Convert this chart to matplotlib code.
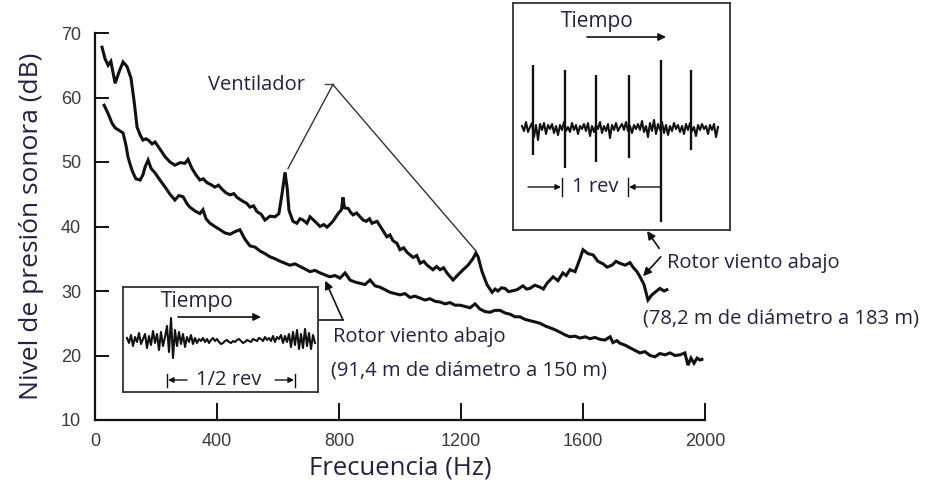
"""
    Espectro de ruido de dos aerogeneradores de rotor viento abajo,
    con dos recuadros de la señal en el tiempo.
"""

import numpy as np
import matplotlib.pyplot as plt

# Datos.
# Rotor viento abajo, 78,2 m de diámetro a 183 m (curva superior).
f_upper = [23, 33, 43, 52, 66, 79, 92, 105, 118, 128, 138, 148, 157, 167, 177,
           187, 197, 213, 230, 246, 262, 279, 295, 305, 318, 331, 344, 355, 367,
           380, 393, 405, 416, 430, 443, 455, 466, 485, 497, 508, 520, 531, 545,
           557, 574, 590, 603, 613, 623, 630, 636, 649, 662, 672, 682, 695, 705,
           721, 738, 750, 761, 772, 780, 797, 808, 813, 818, 830, 838, 846, 858,
           869, 879, 889, 900, 908, 925, 941, 957, 967, 977, 990, 1000, 1012,
           1023, 1043, 1055, 1066, 1078, 1089, 1108, 1120, 1131, 1143, 1154,
           1174, 1190, 1207, 1223, 1239, 1249, 1256, 1269, 1285, 1302, 1312,
           1321, 1333, 1344, 1356, 1366, 1384, 1403, 1415, 1426, 1442, 1459,
           1470, 1482, 1502, 1518, 1534, 1545, 1557, 1574, 1590, 1600, 1616,
           1633, 1649, 1666, 1679, 1695, 1708, 1721, 1738, 1754, 1764, 1777,
           1787, 1800, 1813, 1826, 1836, 1852, 1866, 1875]
db_upper = [67.8, 66.0, 65.0, 65.6, 62.2, 64.0, 65.5, 64.8, 63.0, 59.5, 55.4,
            54.2, 53.4, 53.6, 53.3, 52.8, 53.1, 52.0, 50.8, 50.0, 49.5, 49.9,
            49.8, 50.4, 49.0, 48.0, 47.2, 47.4, 46.8, 46.5, 46.1, 46.4, 45.8,
            45.2, 44.9, 45.1, 44.5, 43.9, 43.6, 43.0, 43.2, 42.3, 41.9, 41.0,
            41.6, 41.5, 42.0, 45.0, 48.4, 46.0, 42.5, 40.8, 40.5, 41.2, 41.0,
            40.5, 41.5, 40.8, 40.0, 40.3, 39.9, 40.4, 40.8, 42.0, 42.6, 44.5,
            42.9, 42.8, 42.2, 41.8, 42.1, 41.5, 41.0, 40.8, 41.2, 40.5, 40.8,
            39.6, 38.4, 38.7, 37.8, 37.4, 36.4, 36.7, 36.0, 35.2, 35.5, 34.3,
            34.6, 34.0, 33.3, 33.8, 33.3, 33.6, 32.8, 31.7, 32.5, 33.3, 34.0,
            35.0, 35.9, 35.3, 33.0, 31.0, 29.8, 30.3, 30.0, 30.5, 30.4, 29.9,
            30.0, 30.2, 30.8, 30.3, 30.4, 30.9, 30.6, 30.3, 31.2, 32.2, 31.6,
            32.8, 32.4, 33.3, 33.0, 35.0, 36.4, 35.8, 35.6, 34.6, 34.2, 33.7,
            34.0, 34.6, 34.3, 34.0, 34.4, 33.7, 33.0, 32.2, 31.0, 28.6, 29.4,
            29.8, 30.4, 30.0, 30.2]

# Rotor viento abajo, 91,4 m de diámetro a 150 m (curva inferior).
f_lower = [30, 43, 56, 66, 82, 92, 102, 108, 118, 125, 134, 148, 157, 164, 174,
           184, 197, 213, 230, 246, 262, 275, 289, 302, 311, 328, 344, 354, 364,
           377, 393, 410, 426, 443, 459, 475, 492, 508, 525, 541, 557, 574, 590,
           607, 623, 639, 656, 672, 689, 705, 721, 738, 754, 770, 787, 803, 820,
           836, 852, 869, 885, 902, 918, 934, 951, 967, 984, 1000, 1016, 1033,
           1049, 1066, 1082, 1098, 1115, 1131, 1148, 1164, 1180, 1197, 1213,
           1230, 1246, 1262, 1279, 1295, 1311, 1328, 1344, 1361, 1377, 1393,
           1410, 1426, 1443, 1459, 1475, 1492, 1508, 1525, 1541, 1557, 1574,
           1590, 1607, 1623, 1639, 1656, 1672, 1689, 1698, 1711, 1721, 1738,
           1754, 1770, 1787, 1803, 1820, 1836, 1852, 1869, 1885, 1902, 1918,
           1934, 1944, 1954, 1964, 1974, 1984, 1990]
db_lower = [58.8, 57.5, 56.0, 55.3, 54.8, 54.5, 52.5, 50.8, 49.2, 48.3, 47.4,
            47.2, 48.0, 49.2, 50.3, 49.0, 48.3, 47.2, 46.1, 45.0, 44.1, 44.8,
            44.6, 43.5, 43.0, 42.4, 42.0, 42.6, 41.2, 40.5, 40.0, 39.5, 39.0,
            38.8, 39.2, 39.5, 38.0, 37.0, 36.8, 36.2, 35.8, 35.3, 35.0, 34.6,
            34.3, 34.0, 34.2, 33.8, 33.4, 33.0, 33.2, 32.8, 32.5, 32.2, 32.4,
            32.0, 32.8, 31.7, 31.4, 31.2, 31.0, 31.7, 30.8, 30.6, 30.2, 29.8,
            29.6, 29.4, 29.6, 29.0, 29.2, 28.9, 28.6, 28.8, 28.4, 28.3, 28.0,
            28.2, 27.8, 27.8, 27.6, 27.4, 28.0, 27.2, 26.8, 26.7, 27.0, 27.0,
            26.6, 26.4, 26.0, 26.0, 25.6, 25.4, 25.2, 25.0, 24.6, 24.3, 24.0,
            23.6, 23.2, 22.9, 23.0, 22.7, 22.9, 22.6, 22.8, 22.5, 22.4, 22.9,
            22.0, 22.3, 21.9, 21.6, 21.2, 20.8, 20.4, 20.6, 20.0, 19.8, 20.3,
            20.1, 20.4, 20.0, 20.1, 20.4, 18.5, 19.6, 18.8, 19.6, 19.3, 19.4]

x_ticks = [0, 400, 800, 1200, 1600, 2000]
y_ticks = [10, 20, 30, 40, 50, 60, 70]

# Señal en el tiempo, recuadro de 1/2 rev (rotor de 91,4 m).
wave_half = [2, -3, 5, -6, 3, -2, 7, -4, 1, 6, -8, 4, -5, 9, -3, 6, -10, 8, -6, 3,
             14, -12, 22, -18, 10,
             -6, 8, -4, 6, -7, 3, -2, 5, -4, 2, -3, 1,
             -1, 2, -2, 1, -3, 0, 2, -1, 1, -2, -4, -3, -1, 0, -2, -3, -1, -2, 0,
             1, -1, -3, -2, 0, -1, -2, 1, 0, -1, 2, 1, -1, 3, 0, 2, -1, 4, -2, 3,
             1, 5, -3, 4, -2, 6,
             -7, 8, -5, 10, -9, 6, -8, 11, -6, 7, -9, 5, -3]

# Señal en el tiempo, recuadro de 1 rev (rotor de 78,2 m).
wave_rev = [2, -3, 6, -4, 1, 5, -9, 3, -12, 4, -2, 5, -6, 3, -1, 4, -5, 2, -7, 3,
            -2, 6, -3, 1, -4, 5, -2, 3, -6, 2, -1, 4, -3, 5, -8, 2, -4, 3, -1, 6,
            -5, 2, -3, 4, -10, 3, -2, 5, -3, 1, 4, -2, 6, -3, 2, -5, 3, -1, 4, -2,
            7, -4, 2, -9, 5, -3, 8, -6, 4, -2, 6, -5, 3, -7, 2, -3, 5, -1, 3, -4,
            2, -6, 4, -2, 5, -3, 1, -8, 3, -2, 4, -1, 2, -6, 3, -2, 4, -9, 1]
spike_pos = [20, 52, 83, 116, 148, 178]
spike_top = [63, 58, 53, 53, 68, 58]
spike_bottom = [-27, -40, -34, -30, -94, -22]

ink = '#111111'
text_color = '#23233f'
font_txt = ['Open Sans', 'DejaVu Sans']

fig = plt.figure(figsize=(9.32, 4.92), dpi=100)
ax = fig.add_axes([95/932, 72/492, 610/932, 387/492])

ax.plot(f_upper, db_upper, color=ink, lw=2.2, solid_joinstyle='miter')
ax.plot(f_lower, db_lower, color=ink, lw=2.2, solid_joinstyle='miter')

ax.set_xlim(0, 2000)
ax.set_ylim(10, 70)
ax.set_xticks(x_ticks)
ax.set_yticks(y_ticks)
for s in ['top', 'right']:
    ax.spines[s].set_visible(False)
for s in ['left', 'bottom']:
    ax.spines[s].set_linewidth(1.6)
    ax.spines[s].set_color(ink)
ax.tick_params(axis='x', direction='in', length=12, width=1.4, pad=9,
               labelsize=13, labelcolor='#3a3a3a', color=ink)
ax.tick_params(axis='y', direction='in', length=10, width=1.4, pad=10,
               labelsize=13, labelcolor='#3a3a3a', color=ink)
for lab in ax.get_xticklabels() + ax.get_yticklabels():
    lab.set_family('Liberation Sans')

ax.set_xlabel('Frecuencia (Hz)', fontsize=18.5, color=text_color,
              family=font_txt, labelpad=4)
ax.set_ylabel('Nivel de presión sonora (dB)', fontsize=19, color=text_color,
              family=font_txt, labelpad=12)

# Llamadas "Ventilador".
ax.text(370, 61.9, 'Ventilador', fontsize=14.5, color=text_color,
        family=font_txt, va='center', ha='left')
ax.plot([755, 780], [62.1, 62.1], color='#444444', lw=1.0, clip_on=False)
ax.plot([780, 633], [62.0, 49.0], color='#333333', lw=1.0, clip_on=False)
ax.plot([780, 1249], [62.0, 36.2], color='#333333', lw=1.0, clip_on=False)

# Llamadas "Rotor viento abajo".
ax.text(780, 22.9, 'Rotor viento abajo', fontsize=14.5, color=text_color,
        family=font_txt, va='center', ha='left')
ax.text(774, 17.75, '(91,4 m de diámetro a 150 m)', fontsize=14.5,
        color=text_color, family=font_txt, va='center', ha='left')
ax.plot([731, 813], [25.5, 25.5], color=ink, lw=1.2, clip_on=False)
ax.annotate('', xy=(755, 31.6), xytext=(813, 25.5),
            arrowprops=dict(arrowstyle='-|>', color=ink, lw=1.2,
                            mutation_scale=12, shrinkA=0, shrinkB=0))

ax.text(1875, 34.3, 'Rotor viento abajo', fontsize=14.5, color=text_color,
        family=font_txt, va='center', ha='left', clip_on=False)
ax.text(1797, 25.8, '(78,2 m de diámetro a 183 m)', fontsize=14.5,
        color=text_color, family=font_txt, va='center', ha='left',
        clip_on=False)
ax.annotate('', xy=(1797, 32.3), xytext=(1855, 35.3),
            arrowprops=dict(arrowstyle='-|>', color=ink, lw=1.2,
                            mutation_scale=12, shrinkA=0, shrinkB=0))
ax.annotate('', xy=(1810, 39.3), xytext=(1850, 36.6),
            arrowprops=dict(arrowstyle='-|>', color=ink, lw=1.2,
                            mutation_scale=12, shrinkA=0, shrinkB=0))

# Recuadro 1/2 rev.
ins1 = fig.add_axes([123/932, 100/492, 195/932, 105/492])
ins1.plot(4 + 2*np.arange(len(wave_half)), wave_half, color=ink, lw=1.5)
ins1.set_xlim(0, 195)
ins1.set_ylim(-52, 53)
ins1.set_xticks([])
ins1.set_yticks([])
for s in ins1.spines.values():
    s.set_linewidth(1.3)
    s.set_color('#333333')
ins1.text(74, 39, 'Tiempo', fontsize=15, color=text_color, family=font_txt,
          ha='center', va='center')
ins1.annotate('', xy=(138, 23), xytext=(55, 23),
              arrowprops=dict(arrowstyle='-|>', color=ink, lw=1.2,
                              mutation_scale=11, shrinkA=0, shrinkB=0))
ins1.plot([44, 44], [-34, -47], color=ink, lw=1.0)
ins1.plot([172, 172], [-34, -47], color=ink, lw=1.0)
ins1.annotate('', xy=(45, -40), xytext=(64, -40),
              arrowprops=dict(arrowstyle='-|>', color=ink, lw=1.0,
                              mutation_scale=8, shrinkA=0, shrinkB=0))
ins1.annotate('', xy=(171, -40), xytext=(152, -40),
              arrowprops=dict(arrowstyle='-|>', color=ink, lw=1.0,
                              mutation_scale=8, shrinkA=0, shrinkB=0))
ins1.text(106, -40, '1/2 rev', fontsize=14.5, color=text_color,
          family=font_txt, ha='center', va='center')

# Recuadro 1 rev.
ins2 = fig.add_axes([513/932, 262/492, 217/932, 227/492])
ins2.plot(9 + 2*np.arange(len(wave_rev)), wave_rev, color=ink, lw=1.5)
ins2.vlines(spike_pos, spike_bottom, spike_top, color=ink, lw=1.7)
ins2.set_xlim(0, 217)
ins2.set_ylim(-102, 125)
ins2.set_xticks([])
ins2.set_yticks([])
for s in ins2.spines.values():
    s.set_linewidth(1.3)
    s.set_color('#333333')
ins2.text(84, 107, 'Tiempo', fontsize=15, color=text_color, family=font_txt,
          ha='center', va='center')
ins2.annotate('', xy=(153, 91), xytext=(74, 91),
              arrowprops=dict(arrowstyle='-|>', color=ink, lw=1.2,
                              mutation_scale=11, shrinkA=0, shrinkB=0))
ins2.plot([49, 49], [-50, -68], color=ink, lw=1.0)
ins2.plot([115, 115], [-50, -68], color=ink, lw=1.0)
ins2.annotate('', xy=(48, -59), xytext=(15, -59),
              arrowprops=dict(arrowstyle='-|>', color=ink, lw=1.0,
                              mutation_scale=8, shrinkA=0, shrinkB=0))
ins2.annotate('', xy=(116, -59), xytext=(147, -59),
              arrowprops=dict(arrowstyle='-|>', color=ink, lw=1.0,
                              mutation_scale=8, shrinkA=0, shrinkB=0))
ins2.text(82, -59, '1 rev', fontsize=14.5, color=text_color,
          family=font_txt, ha='center', va='center')

fig.savefig('out.png', dpi=100)
plt.close()
